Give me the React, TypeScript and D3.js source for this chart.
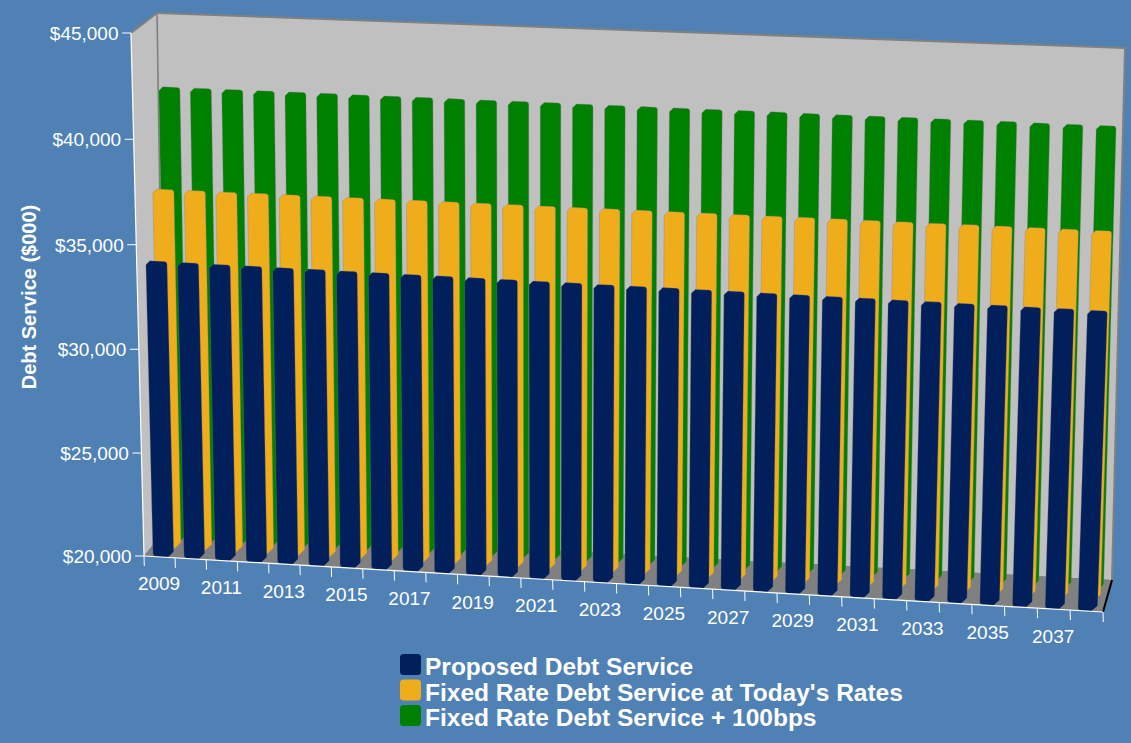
import React from 'react';
import * as d3 from 'd3';

const years = d3.range(2009, 2039).map(String);
const proposed = [34260,34260,34250,34250,34240,34240,34230,34230,34220,34220,34210,34210,34200,34200,34190,34190,34190,34180,34180,34170,34170,34160,34160,34150,34150,34140,34140,34130,34130,34120];
const fixedToday = [37310,37310,37310,37320,37320,37320,37320,37320,37330,37330,37330,37330,37330,37330,37340,37340,37340,37340,37340,37340,37350,37350,37350,37350,37350,37360,37360,37360,37360,37360];
const fixedPlus = [41840,41840,41840,41840,41840,41840,41830,41830,41830,41830,41830,41830,41830,41820,41820,41820,41820,41820,41820,41820,41810,41810,41810,41810,41810,41810,41810,41800,41800,41800];
const yTicks = [20000,25000,30000,35000,40000,45000];
const seriesNames = ['Proposed Debt Service',"Fixed Rate Debt Service at Today's Rates",'Fixed Rate Debt Service + 100bps'];
const seriesColors = ['#001f5b','#efac1b','#008000'];
const seriesDepth = [0,0.35,0.67];

type Pt = [number,number];
// plot box corners: [left-bottom, right-bottom, right-top, left-top]
const front: Pt[] = [[144,556],[1103,612],[1121,75],[131,33]];
const back: Pt[] = [[165,530],[1112,580],[1125,48],[157,13]];

const persp = (x:number,r:number)=>x/(x+r*(1-x));
const mix = (a:Pt,b:Pt,t:number):Pt=>[a[0]+(b[0]-a[0])*t,a[1]+(b[1]-a[1])*t];
const bil = (q:Pt[],u:number,v:number)=>mix(mix(q[0],q[1],u),mix(q[3],q[2],u),v);
const P = (u:number,v:number,w:number):Pt=>{
  const uu=persp(u,1.03), vv=persp(v,1.02);
  return mix(bil(front,uu,vv),bil(back,uu,vv),w);
};
const xS = d3.scaleBand<string>().domain(years).range([0,1]);
const yS = d3.scaleLinear().domain([20000,45000]).range([0,1]);
const money = (v:number)=>'$'+d3.format(',')(v);
const poly=(pts:Pt[])=>'M'+pts.map(p=>p[0].toFixed(1)+','+p[1].toFixed(1)).join('L')+'Z';

function corner(path:d3.Path,prev:Pt,c:Pt,next:Pt,r:number,bevel:boolean){
  const dist=(a:Pt,b:Pt)=>Math.hypot(a[0]-b[0],a[1]-b[1]);
  const p1=mix(c,prev,r/dist(c,prev)), p2=mix(c,next,r/dist(c,next));
  path.lineTo(p1[0],p1[1]);
  if(bevel) path.lineTo(p2[0],p2[1]); else path.quadraticCurveTo(c[0],c[1],p2[0],p2[1]);
}
function barPath(pts:Pt[]){
  // BL, BR, TR, TL
  const [bl,br,tr,tl]=pts;
  const path=d3.path();
  const start=mix(bl,br,0.5);
  path.moveTo(start[0],start[1]);
  corner(path,bl,br,tr,6,true);
  corner(path,br,tr,tl,2.5,false);
  corner(path,tr,tl,bl,4,true);
  corner(path,tl,bl,br,3.5,false);
  path.closePath();
  return path.toString();
}

const seriesValues=[proposed,fixedToday,fixedPlus];

export default function App(){
  const bw=xS.bandwidth();
  const wall=poly(back);
  const leftWall=poly([front[0],front[3],back[3],back[0]]);
  const floor=poly([front[0],front[1],back[1],back[0]]);
  const order=[2,1,0];
  return (
    <svg width={1131} height={743} style={{position:'fixed',left:0,top:0,display:'block'}} fontFamily="'Liberation Sans', Arial, sans-serif">
      <rect width={1131} height={743} fill="#4f81b5"/>
      <path d={leftWall} fill="#c0c0c0"/>
      <path d={wall} fill="#c0c0c0"/>
      <path d={floor} fill="#808080"/>
      <path d={poly([back[3],back[2],back[1]]).replace('Z','')} fill="none" stroke="#808080" strokeWidth={2}/>
      <line x1={back[3][0]} y1={back[3][1]} x2={back[0][0]} y2={back[0][1]} stroke="#808080" strokeWidth={1.6}/>
      <line x1={front[3][0]} y1={front[3][1]} x2={back[3][0]} y2={back[3][1]} stroke="#808080" strokeWidth={2}/>
      {order.map(s=>(
        <g key={s}>
          {years.map((yr,i)=>{
            const f=i/29;
            const lf=0.29-0.055*f, rf=0.96-0.13*f;
            const u0=xS(yr)!+bw*lf, u1=xS(yr)!+bw*rf;
            const v=yS(seriesValues[s][i]), w=seriesDepth[s];
            const pts:Pt[]=[P(u0,0,w),P(u1,0,w),P(u1,v,w),P(u0,v,w)];
            return <path key={yr} d={barPath(pts)} fill={seriesColors[s]} stroke="#808080" strokeOpacity={0.45} strokeWidth={0.7}/>;
          })}
        </g>
      ))}
      <line x1={front[1][0]} y1={front[1][1]} x2={back[1][0]} y2={back[1][1]} stroke="#000" strokeWidth={2}/>
      <line x1={front[0][0]} y1={front[0][1]} x2={front[3][0]} y2={front[3][1]} stroke="#fff" strokeWidth={1.2}/>
      <line x1={front[0][0]} y1={front[0][1]} x2={front[1][0]} y2={front[1][1]} stroke="#fff" strokeWidth={1.2}/>
      {yTicks.map(t=>{
        const p=P(0,yS(t),0);
        return <g key={t}>
          <line x1={p[0]-9} y1={p[1]} x2={p[0]} y2={p[1]} stroke="#fff" strokeWidth={1}/>
          <text x={p[0]-12.5} y={p[1]} dy="0.36em" textAnchor="end" fontSize={19} fill="#fff">{money(t)}</text>
        </g>;
      })}
      {[...years,'end'].map((yr,i)=>{
        const p=P(i/30,0,0);
        return <line key={yr} x1={p[0]} y1={p[1]} x2={p[0]+0.3} y2={p[1]+10} stroke="#fff" strokeWidth={1}/>;
      })}
      {years.filter((_,i)=>i%2===0).map(yr=>{
        const p=P(xS(yr)!+bw/2,0,0);
        return <text key={yr} x={p[0]-0.5} y={p[1]+33.5} textAnchor="middle" fontSize={19} fill="#fff">{yr}</text>;
      })}
      <text transform="translate(29,297) rotate(-90)" dy="0.36em" textAnchor="middle" fontSize={20} fontWeight="bold" fill="#fff">Debt Service ($000)</text>
      {seriesNames.map((n,i)=>(
        <g key={n}>
          <rect x={400} y={654+i*25.5} width={21} height={21} rx={3.5} fill={seriesColors[i]}/>
          <text x={425} y={675+i*25.5} fontSize={24.5} fontWeight="bold" fill="#fff">{n}</text>
        </g>
      ))}
    </svg>
  );
}
